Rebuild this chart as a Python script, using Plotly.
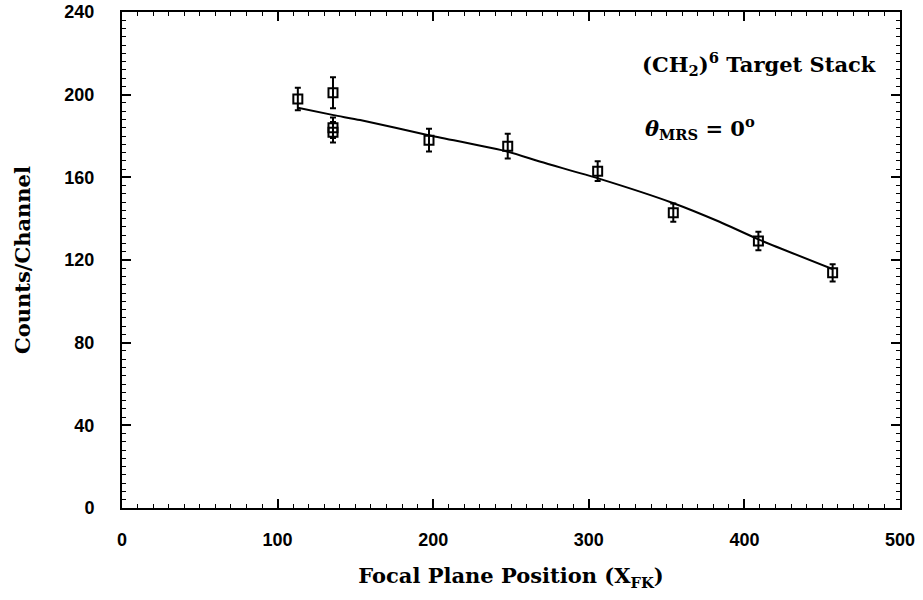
import plotly.graph_objects as go

# Data points (focal plane position, counts/channel, error)
x_pos = [113, 135.6, 135.6, 135.6, 197.3, 247.9, 305.7, 354.3, 409.0, 456.7]
counts = [197.9, 200.9, 184.0, 181.8, 178.0, 175.1, 163.0, 142.9, 129.2, 113.8]
errors = [5.5, 7.5, 5.0, 5.0, 5.5, 6.0, 4.8, 4.4, 4.5, 4.2]

# Fitted curve
fit_x = [113, 136, 153, 197, 248, 269, 306, 354, 384, 409, 457]
fit_y = [193.7, 190.1, 187.7, 180.4, 172.4, 167.5, 159.5, 147.6, 138.5, 130.0, 115.5]

x_ticks = [0, 100, 200, 300, 400, 500]
y_ticks = [0, 40, 80, 120, 160, 200, 240]

fig = go.Figure()
fig.add_trace(go.Scatter(x=fit_x, y=fit_y, mode="lines",
                         line=dict(color="black", width=2, shape="spline", smoothing=0.6),
                         showlegend=False))
fig.add_trace(go.Scatter(
    x=x_pos, y=counts, mode="markers",
    marker=dict(symbol="square-open", size=9, color="black", line=dict(width=2)),
    error_y=dict(type="data", array=errors, visible=True, color="black",
                 thickness=2, width=3),
    showlegend=False))

tickfont = dict(family="Liberation Sans", size=18, color="black", weight="bold")
titlefont = dict(family="DejaVu Serif", size=21, color="black", weight="bold")

common = dict(showline=True, linecolor="black", linewidth=2, mirror="ticks",
              ticks="inside", ticklen=9, tickwidth=1.5, tickcolor="black",
              showgrid=False, zeroline=False, tickfont=tickfont, automargin=False)

fig.update_xaxes(range=[0, 500], tickvals=x_ticks, ticktext=[str(v) for v in x_ticks],
                 minor=dict(ticks="inside", ticklen=4, tickwidth=1.2, tickcolor="black", dtick=10, tick0=0),
                 ticklabelstandoff=14,
                 title=dict(text="Focal Plane Position (X<sub>FK</sub>)", font=titlefont, standoff=20),
                 **common)
fig.update_yaxes(range=[0, 240], tickvals=y_ticks, ticktext=[str(v) for v in y_ticks],
                 minor=dict(ticks="inside", ticklen=4, tickwidth=1.2, tickcolor="black", dtick=4, tick0=0),
                 ticklabelstandoff=22,
                 title=dict(text="Counts/Channel", font=titlefont, standoff=28),
                 **common)

annfont = dict(family="DejaVu Serif", size=21, color="black", weight="bold")
fig.add_annotation(x=333, y=215, xref="x", yref="y", xanchor="left", yanchor="middle",
                   text="(CH<sub>2</sub>)<sup>6</sup> Target Stack", showarrow=False, font=annfont)
fig.add_annotation(x=335, y=184, xref="x", yref="y", xanchor="left", yanchor="middle",
                   text="<i>θ</i><sub>MRS</sub> = 0<sup>o</sup>", showarrow=False, font=annfont)

fig.update_layout(width=923, height=600, paper_bgcolor="white", plot_bgcolor="white",
                  margin=dict(l=122, r=23, t=12, b=92))

fig.write_html("out.html")
